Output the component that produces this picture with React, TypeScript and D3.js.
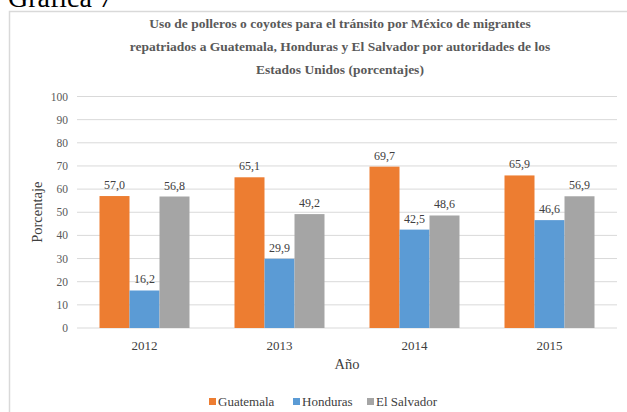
import React from "react";
import * as d3 from "d3";

const years = ["2012", "2013", "2014", "2015"];
const seriesNames = ["Guatemala", "Honduras", "El Salvador"];
const guatemala = [57.0, 65.1, 69.7, 65.9];
const honduras = [16.2, 29.9, 42.5, 46.6];
const elSalvador = [56.8, 49.2, 48.6, 56.9];
const yTicks = [0, 10, 20, 30, 40, 50, 60, 70, 80, 90, 100];
const colors = ["#ED7D31", "#5B9BD5", "#A5A5A5"];

const titleLines = [
  "Uso de polleros o coyotes para el tránsito por México de migrantes",
  "repatriados a Guatemala, Honduras y El Salvador por autoridades de los",
  "Estados Unidos (porcentajes)",
];

const W = 627;
const H = 412;
const font = "'Liberation Serif', 'Times New Roman', serif";

export default function App() {
  const series = [guatemala, honduras, elSalvador];
  const plotLeft = 77;
  const plotRight = 617;
  const plotTop = 96.5;
  const plotBottom = 328;

  const x = d3.scaleBand().domain(years).range([plotLeft, plotRight]);
  // each group of bars is 90px wide inside its 135px band
  const groupW = 90;
  const xi = d3.scaleBand().domain(seriesNames).range([0, groupW]);
  const y = d3.scaleLinear().domain([0, 100]).range([plotBottom, plotTop]);

  const fmt = (v: number) => v.toFixed(1).replace(".", ",");

  const legendX = [209, 293, 367];

  return (
    <div style={{ position: "absolute", left: 0, top: 0 }}>
      <svg width={W} height={H} style={{ display: "block", background: "#fff" }}>
        <text x={8} y={7} fontFamily={font} fontSize={28} fill="#000">
          Gráfica 7
        </text>
        <rect x={9.5} y={11.5} width={W + 10} height={H + 10} fill="none" stroke="#D9D9D9" strokeWidth={1.5} />

        {titleLines.map((t, i) => (
          <text
            key={i}
            x={340}
            y={28 + i * 23}
            textAnchor="middle"
            fontFamily={font}
            fontWeight="bold"
            fontSize={13.5}
            fill="#595959"
          >
            {t}
          </text>
        ))}

        {yTicks.map((t) => (
          <g key={t}>
            <line x1={plotLeft} x2={plotRight} y1={y(t)} y2={y(t)} stroke="#D9D9D9" strokeWidth={1} />
            <text x={68} y={y(t) + 4} textAnchor="end" fontFamily={font} fontSize={11.5} fill="#595959">
              {t}
            </text>
          </g>
        ))}

        {years.map((yr, i) => {
          const gx = (x(yr) as number) + (x.bandwidth() - groupW) / 2;
          return (
            <g key={yr}>
              {series.map((s, j) => {
                const bx = gx + (xi(seriesNames[j]) as number);
                return (
                  <g key={j}>
                    <rect
                      x={bx}
                      y={y(s[i])}
                      width={xi.bandwidth()}
                      height={plotBottom - y(s[i])}
                      fill={colors[j]}
                    />
                    <text
                      x={bx + xi.bandwidth() / 2}
                      y={y(s[i]) - 7}
                      textAnchor="middle"
                      fontFamily={font}
                      fontSize={12}
                      fill="#404040"
                    >
                      {fmt(s[i])}
                    </text>
                  </g>
                );
              })}
              <text
                x={(x(yr) as number) + x.bandwidth() / 2}
                y={350}
                textAnchor="middle"
                fontFamily={font}
                fontSize={13}
                fill="#404040"
              >
                {yr}
              </text>
            </g>
          );
        })}

        <text
          transform={`translate(42,${(plotTop + plotBottom) / 2}) rotate(-90)`}
          textAnchor="middle"
          fontFamily={font}
          fontSize={14.5}
          fill="#404040"
        >
          Porcentaje
        </text>
        <text x={(plotLeft + plotRight) / 2} y={369} textAnchor="middle" fontFamily={font} fontSize={14.5} fill="#404040">
          Año
        </text>

        {seriesNames.map((n, j) => (
          <g key={n}>
            <rect x={legendX[j]} y={398} width={7} height={7} fill={colors[j]} />
            <text x={legendX[j] + 9} y={406} fontFamily={font} fontSize={13} fill="#404040">
              {n}
            </text>
          </g>
        ))}
      </svg>
    </div>
  );
}
